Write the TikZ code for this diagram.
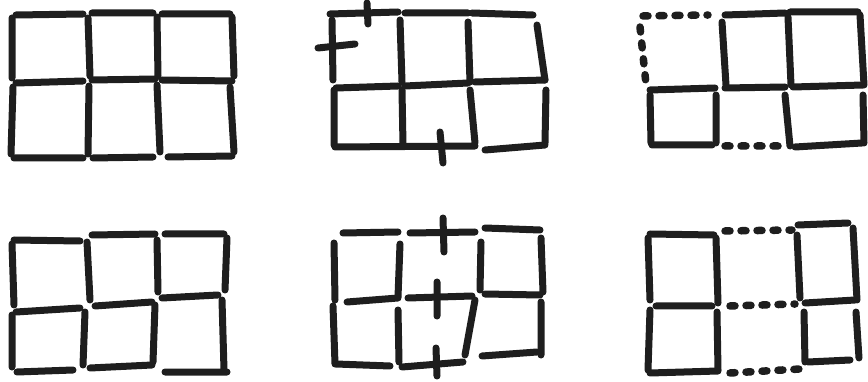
\documentclass[tikz,border=0pt]{standalone}
\usepackage{tikz}
\usetikzlibrary{calc}
\definecolor{pencil}{RGB}{30,30,30}

\begin{document}
\begin{tikzpicture}[
  x=1pt,y=-1pt,
  stick/.style={line width=7pt,line cap=round,pencil},
  gone/.style={line width=7.5pt,line cap=round,pencil,dash pattern=on 5pt off 11pt},
]
\useasboundingbox[fill=white] (0,0) rectangle (868,382);

%% ── Top left: full grid ──────────────────────────────────────────────────
\draw[stick] (16,15)--(83,14) (92,13)--(153,13) (162,14)--(230,14)
             (16,83)--(83,81) (92,80)--(155,79) (162,80)--(232,81)
             (14,158)--(83,158) (93,158)--(153,157) (168,157)--(232,156);
\draw[stick] (12,18)--(12,78) (88,18)--(90,76) (157,17)--(158,76) (232,17)--(234,76)
             (13,87)--(11,154) (89,86)--(88,154) (157,85)--(160,152) (230,87)--(234,152);

%% ── Top middle: grid with three extra sticks ─────────────────────────────
\draw[stick] (330,14)--(398,12) (405,13)--(468,13) (472,13)--(533,15)
             (336,88)--(398,86) (405,86)--(468,83) (475,82)--(545,80)
             (335,147)--(475,146) (485,150)--(545,145);
\draw[stick] (332,20)--(333,80) (400,20)--(402,82) (468,22)--(470,82) (537,25)--(545,80)
             (334,90)--(334,145) (402,90)--(403,145) (470,90)--(475,143) (546,90)--(545,143);
\draw[stick] (367,3)--(368,24) (318,48)--(355,44) (440,132)--(443,163);

%% ── Top right: grid with removed sticks ──────────────────────────────────
\draw[gone] (643,16)--(708,15) (640,27)--(646,84) (725,146)--(784,146);
\draw[stick] (725,15)--(785,13) (790,12)--(858,12)
             (650,90)--(715,88) (725,88)--(785,87) (793,87)--(863,85)
             (652,145)--(712,145) (795,147)--(862,143);
\draw[stick] (722,22)--(726,85) (788,17)--(791,85) (860,15)--(864,85)
             (650,95)--(651,143) (716,95)--(716,143) (785,95)--(790,146) (863,95)--(864,143);

%% ── Bottom left: full grid ───────────────────────────────────────────────
\draw[stick] (14,240)--(80,241) (92,235)--(155,234) (165,234)--(224,234)
             (16,312)--(80,308) (95,306)--(152,302) (162,298)--(218,295)
             (17,372)--(73,370) (90,368)--(152,365) (165,372)--(227,372);
\draw[stick] (12,244)--(14,305) (87,242)--(90,300) (157,240)--(158,292) (227,238)--(225,290)
             (12,315)--(12,367) (85,312)--(83,365) (155,305)--(153,362) (222,300)--(224,370);

%% ── Bottom middle: grid with three crossing sticks ───────────────────────
\draw[stick] (343,233)--(398,232) (410,233)--(475,232) (485,228)--(540,230)
             (347,302)--(398,298) (408,298)--(472,296) (485,294)--(540,295)
             (336,364)--(390,366) (402,367)--(463,362) (482,356)--(537,352);
\draw[stick] (334,243)--(335,300) (400,244)--(398,297) (481,242)--(480,290) (541,238)--(543,292)
             (333,306)--(335,364) (398,310)--(399,362) (475,300)--(465,355) (541,302)--(541,355);
\draw[stick] (443,218)--(444,252) (437,282)--(437,316) (436,348)--(437,376);

%% ── Bottom right: grid with removed sticks ───────────────────────────────
\draw[gone] (725,231)--(792,230) (730,306)--(795,304) (730,373)--(800,369);
\draw[stick] (650,234)--(714,235) (798,225)--(848,223)
             (656,306)--(712,306) (805,303)--(855,300)
             (650,373)--(718,371) (808,362)--(850,360);
\draw[stick] (648,238)--(650,300) (716,238)--(718,303) (797,235)--(800,298) (853,228)--(857,300)
             (650,310)--(648,370) (717,312)--(718,370) (804,312)--(805,362) (856,312)--(859,358);

\end{tikzpicture}
\end{document}
